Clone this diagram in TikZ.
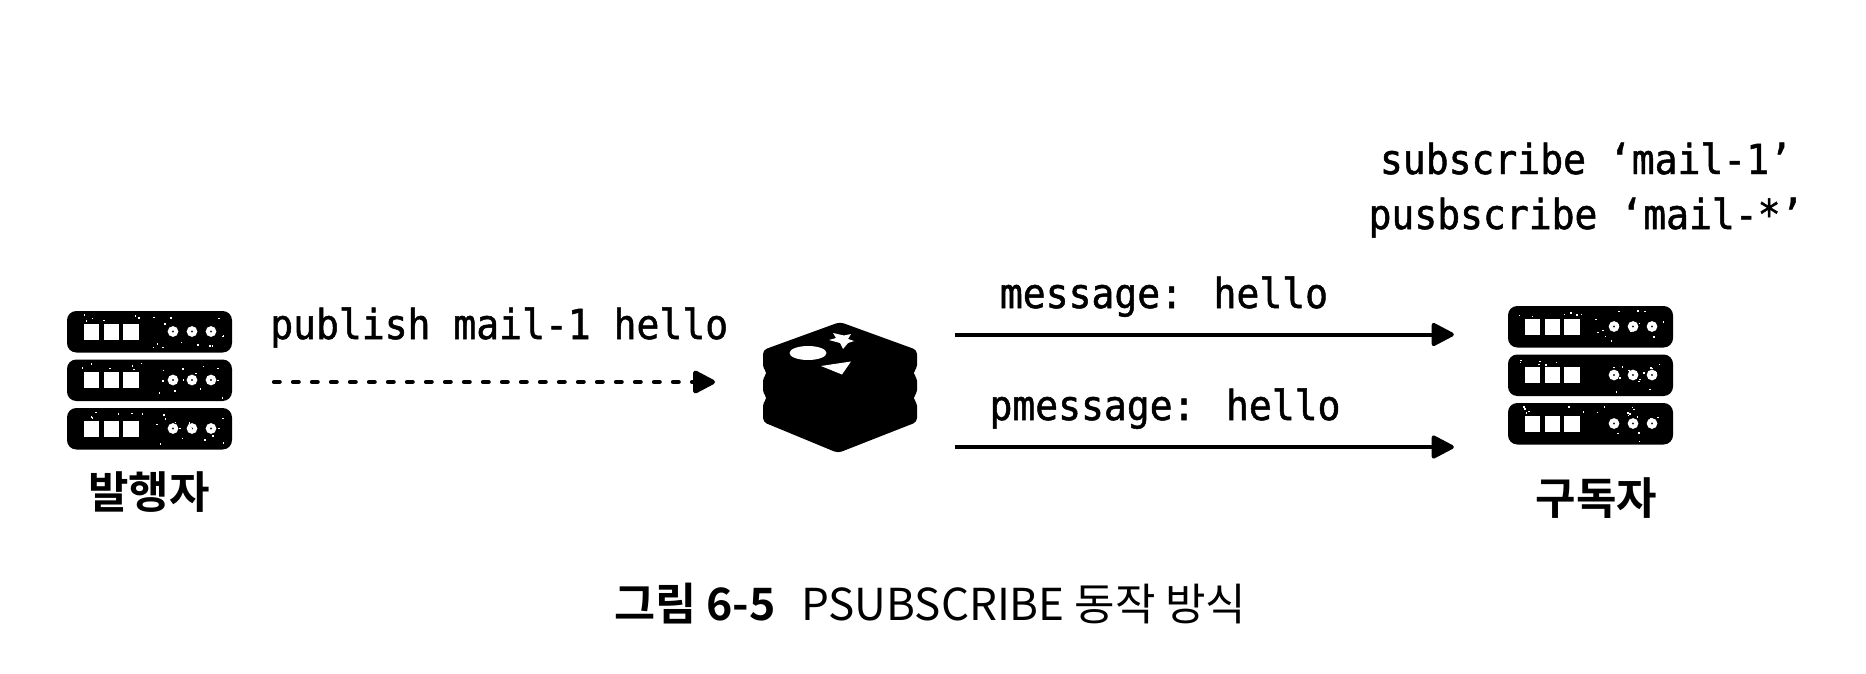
\documentclass[tikz,border=0pt]{standalone}
\usepackage{fontspec}
\setmainfont{Noto Sans CJK KR}
\newfontfamily\codefont[FakeStretch=0.92,FakeBold=1.2]{DejaVu Sans Mono}
\newfontfamily\krfont{Noto Sans CJK KR}
\newfontfamily\krbold{Noto Sans CJK KR Bold}
\usetikzlibrary{arrows.meta}
\tikzset{
  x=0.75pt,y=-0.75pt,
  codetext/.style={inner sep=0pt,font=\codefont\fontsize{31pt}{36pt}\selectfont,text=black},
  whotext/.style={inner sep=0pt,font=\krbold\fontsize{33pt}{38pt}\selectfont,text=black},
  captiontext/.style={inner sep=0pt,font=\krfont\fontsize{33pt}{38pt}\selectfont,text=black},
  capbold/.style={inner sep=0pt,font=\krbold\fontsize{33.5pt}{38pt}\selectfont,text=black},
  blockref/.style={inner sep=0pt,outer sep=0pt,draw=none},
  link/.style={line width=3pt,black,-{Triangle[length=18.5pt,width=18.5pt,round]}},
  dashlink/.style={line width=3.4pt,line cap=round,black,dash pattern=on 4pt off 10.25pt,-{Triangle[length=18.5pt,width=18.5pt,round]}},
  rackbody/.style={fill=black,rounded corners=7pt},
  rackled/.style={fill=white},
  rackring/.style={draw=white,line width=3pt,fill=black},
  speck/.style={fill=white},
}
% \rackrow{x}{y}: x,y = upper-left corner of a 165x41 px rack row
\newcommand{\rackrow}[2]{%
  \begin{scope}[shift={(#1,#2)}]
    \fill[rackbody] (0,0) rectangle (165,41.5);
    \fill[rackled] (16.5,12.5) rectangle (31.5,28.5);
    \fill[rackled] (36.5,12.5) rectangle (51.5,28.5);
    \fill[rackled] (55.5,12.5) rectangle (71.5,28.5);
    \draw[rackring] (106,20.5) circle[radius=3.2];
    \draw[rackring] (125,20.5) circle[radius=3.2];
    \draw[rackring] (144,20.5) circle[radius=3.2];
    \foreach \k in {1,...,14}{
      \pgfmathsetmacro{\sx}{85+rnd*72}
      \pgfmathsetmacro{\sy}{3+rnd*35}
      \fill[speck] (\sx,\sy) rectangle ++(1.5,1.5);
    }
    \foreach \k in {1,...,6}{
      \pgfmathsetmacro{\sx}{6+rnd*70}
      \pgfmathsetmacro{\sy}{3+rnd*7}
      \fill[speck] (\sx,\sy) rectangle ++(1.5,1.5);
    }
  \end{scope}}
\begin{document}
\begin{tikzpicture}
\pgfmathsetseed{65}
\useasboundingbox (0,0) rectangle (1866,674);
\fill[white] (0,0) rectangle (1866,674);

% publisher
\rackrow{67}{311}\rackrow{67}{359.5}\rackrow{67}{408}
\node[blockref,minimum width=124pt,minimum height=103pt] (pub) at (149.5,380) {};
\node[whotext,anchor=base] (publabel) at (149,508) {발행자};

% redis
\fill[black,rounded corners=3pt]
  (840,322) -- (917,350) -- (917,369) -- (912,373) -- (917,377) -- (917,394) -- (912,398) -- (917,402) -- (917,422)
  -- (838,453) -- (763,422) -- (763,402) -- (768,398) -- (763,394) -- (763,377) -- (768,373) -- (763,369) -- (763,350) -- cycle;
\fill[white] (808,353) ellipse[x radius=18.5,y radius=7];
\fill[white] (821,366) -- (851,361.5) -- (842,374.5) -- cycle;
\fill[white] (833,333) -- (844,335.5) -- (851,334) -- (848,339) -- (854,341) -- (848,343) -- (843,349) -- (840,343) -- (829,340) -- (836,338) -- cycle;
\node[blockref,minimum width=115.5pt,minimum height=98pt] (redis) at (840,388) {};

% subscriber
\rackrow{1508}{306}\rackrow{1508}{354.5}\rackrow{1508}{403}
\node[blockref,minimum width=124pt,minimum height=104pt] (sub) at (1590.5,375.5) {};
\node[whotext,anchor=base] (sublabel) at (1596.5,514) {구독자};

% connectors
\coordinate (dashy) at (0,382);
\coordinate (topy) at (0,334.5);
\coordinate (boty) at (0,447);
\draw[dashlink,shorten <=31.5pt,shorten >=36pt] (pub.east |- dashy) -- (redis.west |- dashy);
\draw[link,shorten <=144pt,shorten >=40.5pt] (redis.west |- topy) -- (sub.west |- topy);
\draw[link,shorten <=144pt,shorten >=40.5pt] (redis.west |- boty) -- (sub.west |- boty);

% labels
\node[codetext,anchor=base west] (pubtext) at (270,339) {publish mail-1 hello};
\node[codetext,anchor=base] (msg) at (1164,308) {message: hello};
\node[codetext,anchor=base] (pmsg) at (1165,420) {pmessage: hello};
\node[codetext,anchor=base] (subtext) at (1586,174) {subscribe ‘mail-1’};
\node[codetext,anchor=base] (psubtext) at (1586,229) {pusbscribe ‘mail-*’};

% caption
\node[capbold,anchor=base west] (capnum) at (614,620) {그림 6-5};
\node[captiontext,anchor=base west] (captext) at (801,620) {PSUBSCRIBE 동작 방식};
\end{tikzpicture}
\end{document}
